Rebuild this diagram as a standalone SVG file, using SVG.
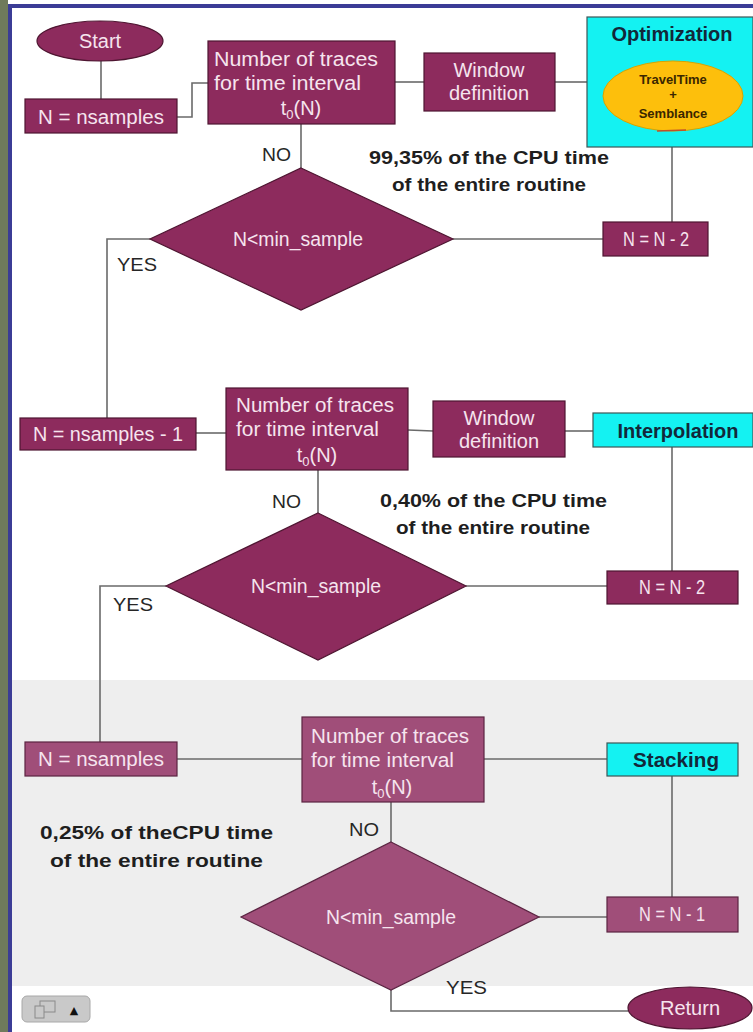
<svg xmlns="http://www.w3.org/2000/svg" width="753" height="1032" viewBox="0 0 753 1032">
  <style>
    .proc { fill: #8d2b5d; stroke: #4e1531; stroke-width: 1.2; }
    .proc3 { fill: #a04e79; stroke: #5b2442; stroke-width: 1.2; }
    .cyan { fill: #14f2f2; stroke: #3c5656; stroke-width: 1.2; }
    .wire { fill: none; stroke: #6a6a6a; stroke-width: 1.6; }
    .t { font-family: "Liberation Sans", Arial, sans-serif; font-size: 20px; fill: #f6e4ee; }
    .c { text-anchor: middle; }
    .lbl { font-family: "Liberation Sans", Arial, sans-serif; font-size: 18px; fill: #262626; }
    .note { font-family: "Liberation Sans", Arial, sans-serif; font-size: 19px; font-weight: bold; fill: #1e1e1e; }
    .head { font-family: "Liberation Sans", Arial, sans-serif; font-size: 20px; font-weight: bold; fill: #12283a; text-anchor: middle; }
    .sub { font-size: 13px; }
  </style>

  <!-- page background and frame -->
  <rect x="0" y="0" width="753" height="1032" fill="#ffffff"/>
  <rect x="0" y="0" width="8" height="1032" fill="#6f7a5c"/>
  <rect x="12" y="680" width="741" height="306" fill="#eeeeee"/>
  <rect x="8" y="4" width="745" height="4" fill="#3b3c96"/>
  <rect x="8" y="4" width="4" height="1028" fill="#3b3c96"/>

  <!-- connectors -->
  <g id="connectors" class="wire">
    <line x1="101" y1="60" x2="101" y2="99"/>
    <polyline points="177,117 192,117 192,83 208,83"/>
    <line x1="395" y1="82" x2="424" y2="82"/>
    <line x1="555" y1="82" x2="587" y2="82"/>
    <line x1="301" y1="124" x2="301" y2="168"/>
    <line x1="672" y1="147" x2="672" y2="222"/>
    <line x1="453" y1="239" x2="603" y2="239"/>
    <polyline points="150,239 107,239 107,418"/>

    <line x1="196" y1="433" x2="226" y2="433"/>
    <line x1="408" y1="430" x2="433" y2="431"/>
    <line x1="565" y1="431" x2="593" y2="431"/>
    <line x1="318" y1="470" x2="318" y2="513"/>
    <line x1="672" y1="447" x2="672" y2="571"/>
    <line x1="466" y1="586" x2="607" y2="586"/>
    <polyline points="166,586 100,586 100,742"/>

    <line x1="177" y1="759" x2="302" y2="759"/>
    <line x1="484" y1="759" x2="607" y2="759"/>
    <line x1="391" y1="802" x2="391" y2="842"/>
    <line x1="672" y1="776" x2="672" y2="897"/>
    <line x1="539" y1="917" x2="607" y2="917"/>
    <polyline points="391,990 391,1011 628,1011"/>
  </g>

  <!-- first pass -->
  <g id="start">
    <ellipse cx="100" cy="41" rx="63" ry="20" class="proc"/>
    <text x="100" y="48" class="t c">Start</text>
  </g>
  <g id="init1">
    <rect x="25" y="99" width="152" height="34" class="proc"/>
    <text x="101" y="124" class="t c" textLength="126" lengthAdjust="spacingAndGlyphs">N = nsamples</text>
  </g>
  <g id="traces1">
    <rect x="208" y="41" width="187" height="83" class="proc"/>
    <text x="214" y="66" class="t" textLength="164" lengthAdjust="spacingAndGlyphs">Number of traces</text>
    <text x="214" y="90" class="t" textLength="147" lengthAdjust="spacingAndGlyphs">for time interval</text>
    <text x="301" y="115" class="t c">t<tspan class="sub" dy="4">0</tspan><tspan dy="-4">(N)</tspan></text>
  </g>
  <g id="window1">
    <rect x="424" y="53" width="131" height="58" class="proc"/>
    <text x="489" y="77" class="t c">Window</text>
    <text x="489" y="100" class="t c">definition</text>
  </g>
  <g id="optimization">
    <rect x="587" y="17" width="166" height="130" class="cyan"/>
    <text x="672" y="41" class="head">Optimization</text>
    <ellipse cx="673" cy="96" rx="70" ry="35" fill="#fdbf0c" stroke="#d9a300" stroke-width="1"/>
    <g font-family="Liberation Sans, Arial, sans-serif" font-size="13" font-weight="bold" fill="#3a2600" text-anchor="middle">
      <text x="673" y="84">TravelTime</text>
      <text x="673" y="99">+</text>
      <text x="673" y="118">Semblance</text>
    </g>
    <line x1="657" y1="131" x2="686" y2="130" stroke="#c0502a" stroke-width="1.5"/>
  </g>
  <g id="decision1">
    <polygon points="301,168 453,239 301,310 150,239" class="proc"/>
    <text x="298" y="246" class="t c" textLength="130" lengthAdjust="spacingAndGlyphs">N&lt;min_sample</text>
  </g>
  <g id="step1">
    <rect x="603" y="222" width="105" height="34" class="proc"/>
    <text x="656" y="246" class="t c" textLength="66" lengthAdjust="spacingAndGlyphs">N = N - 2</text>
  </g>
  <text x="262" y="161" class="lbl" textLength="29" lengthAdjust="spacingAndGlyphs">NO</text>
  <text x="117" y="271" class="lbl" textLength="40" lengthAdjust="spacingAndGlyphs">YES</text>
  <text x="369" y="164" class="note" textLength="240" lengthAdjust="spacingAndGlyphs">99,35% of the CPU time</text>
  <text x="392" y="191" class="note" textLength="194" lengthAdjust="spacingAndGlyphs">of the entire routine</text>

  <!-- second pass -->
  <g id="init2">
    <rect x="20" y="418" width="176" height="32" class="proc"/>
    <text x="108" y="441" class="t c" textLength="150" lengthAdjust="spacingAndGlyphs">N = nsamples - 1</text>
  </g>
  <g id="traces2">
    <rect x="226" y="388" width="182" height="82" class="proc"/>
    <text x="236" y="412" class="t" textLength="158" lengthAdjust="spacingAndGlyphs">Number of traces</text>
    <text x="236" y="436" class="t" textLength="143" lengthAdjust="spacingAndGlyphs">for time interval</text>
    <text x="317" y="462" class="t c">t<tspan class="sub" dy="4">0</tspan><tspan dy="-4">(N)</tspan></text>
  </g>
  <g id="window2">
    <rect x="433" y="401" width="132" height="56" class="proc"/>
    <text x="499" y="425" class="t c">Window</text>
    <text x="499" y="448" class="t c">definition</text>
  </g>
  <g id="interpolation">
    <rect x="593" y="413" width="160" height="34" class="cyan"/>
    <text x="678" y="438" class="head" textLength="121" lengthAdjust="spacingAndGlyphs">Interpolation</text>
  </g>
  <g id="decision2">
    <polygon points="318,513 466,586 318,660 166,586" class="proc"/>
    <text x="316" y="593" class="t c" textLength="130" lengthAdjust="spacingAndGlyphs">N&lt;min_sample</text>
  </g>
  <g id="step2">
    <rect x="607" y="571" width="131" height="33" class="proc"/>
    <text x="672" y="594" class="t c" textLength="66" lengthAdjust="spacingAndGlyphs">N = N - 2</text>
  </g>
  <text x="272" y="508" class="lbl" textLength="29" lengthAdjust="spacingAndGlyphs">NO</text>
  <text x="113" y="611" class="lbl" textLength="40" lengthAdjust="spacingAndGlyphs">YES</text>
  <text x="380" y="507" class="note" textLength="227" lengthAdjust="spacingAndGlyphs">0,40% of the CPU time</text>
  <text x="396" y="534" class="note" textLength="194" lengthAdjust="spacingAndGlyphs">of the entire routine</text>

  <!-- third pass -->
  <g id="init3">
    <rect x="25" y="742" width="152" height="34" class="proc3"/>
    <text x="101" y="766" class="t c" textLength="126" lengthAdjust="spacingAndGlyphs">N = nsamples</text>
  </g>
  <g id="traces3">
    <rect x="302" y="717" width="182" height="85" class="proc3"/>
    <text x="311" y="743" class="t" textLength="158" lengthAdjust="spacingAndGlyphs">Number of traces</text>
    <text x="311" y="767" class="t" textLength="143" lengthAdjust="spacingAndGlyphs">for time interval</text>
    <text x="392" y="794" class="t c">t<tspan class="sub" dy="4">0</tspan><tspan dy="-4">(N)</tspan></text>
  </g>
  <g id="stacking">
    <rect x="607" y="743" width="131" height="33" class="cyan"/>
    <text x="676" y="767" class="head" textLength="86" lengthAdjust="spacingAndGlyphs">Stacking</text>
  </g>
  <g id="decision3">
    <polygon points="391,842 539,917 391,990 241,917" class="proc3"/>
    <text x="391" y="924" class="t c" textLength="130" lengthAdjust="spacingAndGlyphs">N&lt;min_sample</text>
  </g>
  <g id="step3">
    <rect x="607" y="897" width="131" height="35" class="proc3"/>
    <text x="672" y="921" class="t c" textLength="66" lengthAdjust="spacingAndGlyphs">N = N - 1</text>
  </g>
  <g id="return">
    <ellipse cx="690" cy="1008" rx="62" ry="21" class="proc"/>
    <text x="690" y="1015" class="t c">Return</text>
  </g>
  <text x="349" y="836" class="lbl" textLength="30" lengthAdjust="spacingAndGlyphs">NO</text>
  <text x="446" y="994" class="lbl" textLength="41" lengthAdjust="spacingAndGlyphs">YES</text>
  <text x="40" y="839" class="note" textLength="233" lengthAdjust="spacingAndGlyphs">0,25% of theCPU time</text>
  <text x="50" y="867" class="note" textLength="213" lengthAdjust="spacingAndGlyphs">of the entire routine</text>

  <!-- slide navigation button -->
  <g id="nav-button">
    <rect x="22" y="996" width="68" height="26" rx="5" fill="#c9c9c9" stroke="#a8a8a8" stroke-width="1"/>
    <rect x="40" y="1001" width="15" height="11" fill="none" stroke="#8a8a8a" stroke-width="1"/>
    <rect x="35" y="1006" width="9" height="12" fill="#c9c9c9" stroke="#8a8a8a" stroke-width="1"/>
    <text x="74" y="1014" font-family="DejaVu Sans, sans-serif" font-size="11" fill="#111" text-anchor="middle">▲</text>
  </g>
</svg>
